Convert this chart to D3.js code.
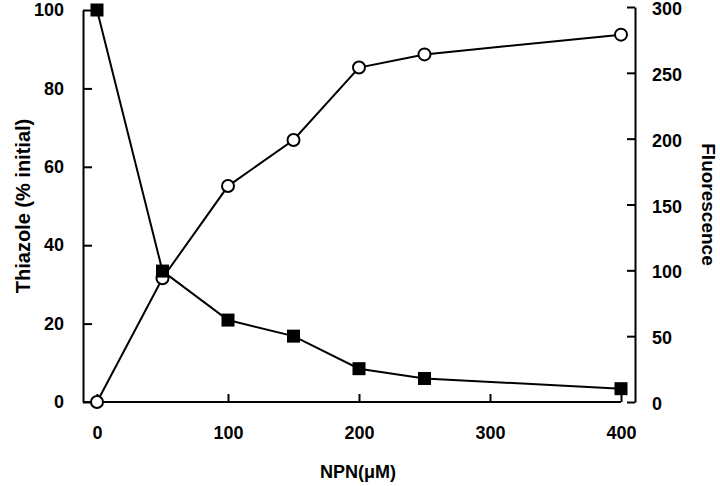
<!DOCTYPE html>
<html>
<head>
<meta charset="utf-8">
<script src="https://cdn.jsdelivr.net/npm/d3@7"></script>
<style>
  html, body { margin: 0; padding: 0; background: #fff; }
  svg text { font-family: "Liberation Sans", Arial, Helvetica, sans-serif; font-weight: bold; fill: #000; }
</style>
</head>
<body>
<svg id="chart" width="720" height="486"></svg>
<script>
// Data
const npn = [0, 50, 100, 150, 200, 250, 400];
const thiazole = [100, 33.4, 20.9, 16.8, 8.5, 6.0, 3.4];
const fluorescence = [0, 94, 164, 199, 254, 264, 279];
const xTicks = [0, 100, 200, 300, 400];
const leftTicks = [0, 20, 40, 60, 80, 100];
const rightTicks = [0, 50, 100, 150, 200, 250, 300];

const svg = d3.select("#chart");

const x = d3.scaleLinear().domain([0, 400]).range([97, 621]);
const yL = d3.scaleLinear().domain([0, 100]).range([402, 10]);
const yR = d3.scaleLinear().domain([0, 300]).range([402, 7]);

const sw = 2;
const tickFont = 18;
const titleFont = 19;

// Left axis
const gL = svg.append("g").attr("transform", "translate(83,0)")
  .call(d3.axisLeft(yL).tickValues(leftTicks).tickSizeInner(-9).tickSizeOuter(0).tickPadding(18));
gL.select(".domain").attr("stroke-width", sw);
gL.selectAll(".tick line").attr("stroke-width", sw);
gL.selectAll(".tick text").attr("font-size", tickFont).attr("x", -19);

// Bottom axis
const gB = svg.append("g").attr("transform", "translate(0,402)")
  .call(d3.axisBottom(x).tickValues(xTicks).tickSizeInner(-8).tickSizeOuter(0).tickPadding(0));
gB.select(".domain").attr("d", `M83,0H${x(400)}`).attr("stroke-width", sw);
gB.selectAll(".tick line").attr("stroke-width", sw);
gB.selectAll(".tick text").attr("font-size", tickFont).attr("y", 37).attr("dy", 0);

// Right axis
const gR = svg.append("g").attr("transform", "translate(635,0)")
  .call(d3.axisRight(yR).tickValues(rightTicks).tickSizeInner(-8).tickSizeOuter(0).tickPadding(18));
gR.select(".domain").attr("stroke-width", sw);
gR.selectAll(".tick line").attr("stroke-width", sw);
gR.selectAll(".tick text").attr("font-size", tickFont).attr("x", 17).attr("dy", "0.42em");

// Axis titles
svg.append("text")
  .attr("transform", `translate(30,${(402 + 10) / 2}) rotate(-90)`)
  .attr("text-anchor", "middle").attr("font-size", 20)
  .text("Thiazole (% initial)");

svg.append("text")
  .attr("transform", `translate(702,${(402 + 7) / 2}) rotate(90)`)
  .attr("text-anchor", "middle").attr("font-size", titleFont)
  .text("Fluorescence");

svg.append("text")
  .attr("x", 358).attr("y", 478)
  .attr("text-anchor", "middle").attr("font-size", 18)
  .text("NPN(μM)");

// Fluorescence line
const lineF = d3.line().x((d, i) => x(npn[i])).y(d => yR(d));
svg.append("path").datum(fluorescence)
  .attr("d", lineF).attr("fill", "none").attr("stroke", "#000").attr("stroke-width", sw);

// Thiazole line
const lineT = d3.line().x((d, i) => x(npn[i])).y(d => yL(d));
svg.append("path").datum(thiazole)
  .attr("d", lineT).attr("fill", "none").attr("stroke", "#000").attr("stroke-width", sw);

svg.append("g").selectAll("circle").data(fluorescence).join("circle")
  .attr("cx", (d, i) => x(npn[i])).attr("cy", d => yR(d))
  .attr("r", 6).attr("fill", "#fff").attr("stroke", "#000").attr("stroke-width", sw);

const s = 13;
svg.append("g").selectAll("rect").data(thiazole).join("rect")
  .attr("x", (d, i) => x(npn[i]) - s / 2).attr("y", d => yL(d) - s / 2)
  .attr("width", s).attr("height", s).attr("fill", "#000");
</script>
</body>
</html>
